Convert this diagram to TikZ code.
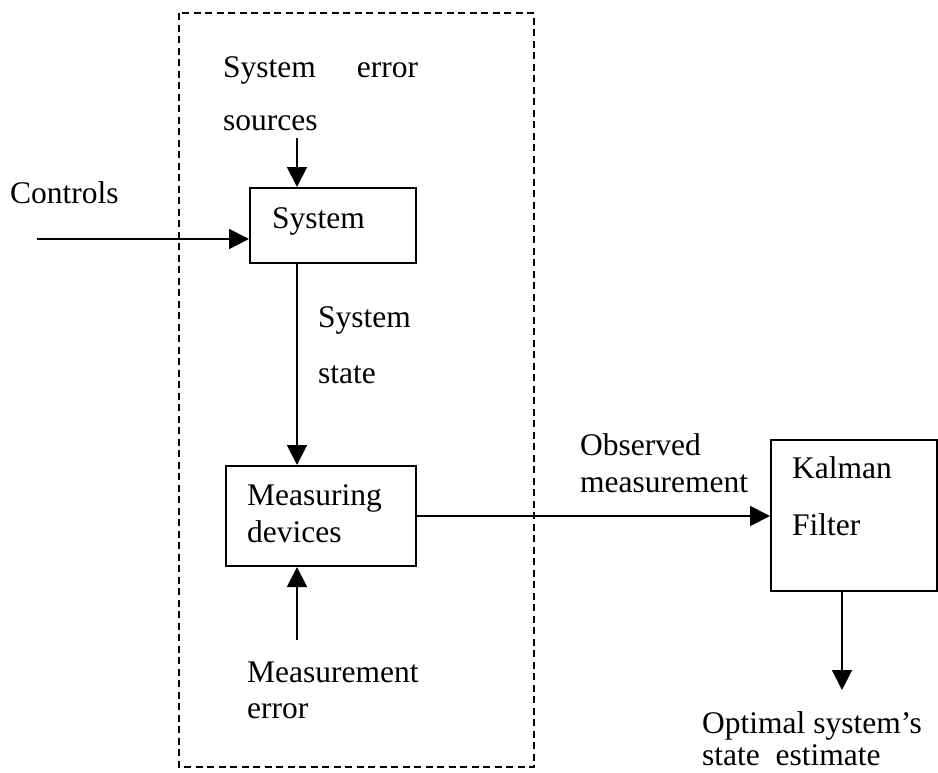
\documentclass[tikz,border=0pt]{standalone}
\usepackage{fontspec}
\setmainfont{Liberation Serif}
\usetikzlibrary{arrows.meta}

\tikzset{
  blk/.style={draw, line width=2pt, inner sep=0pt},
  lbl/.style={anchor=base west, inner sep=0pt, font=\fontsize{31.5}{36}\selectfont},
  arr/.style={line width=1.9pt, -{Triangle[length=20pt,width=20pt]}},
}

\begin{document}
\begin{tikzpicture}[x=1pt,y=-1pt]
  \useasboundingbox (0,0) rectangle (938,772);
  % dashed frame round system + measuring part
  \draw[line width=1.5pt, dash pattern=on 7pt off 4.5pt] (179,13) rectangle (534,767);

  % blocks
  \node[blk, minimum width=166pt, minimum height=75pt]  (sys)  at (333,225.5) {};
  \node[blk, minimum width=190pt, minimum height=100pt] (meas) at (321,516) {};
  \node[blk, minimum width=166pt, minimum height=151pt] (kal)  at (854,515.5) {};

  % texts
  \node[lbl] (ctrl)   at (10,203)  {Controls};
  \node[lbl] (errsrc) at (223,77)  {System\hspace{41pt}error};
  \node[lbl] (errsrcb) at (223,130) {sources};
  \node[lbl] (systxt) at (272,228) {System};
  \node[lbl] (state)  at (318,327) {System};
  \node[lbl] (stateb) at (318,383) {state};
  \node[lbl] (meastxt)  at (247,505) {Measuring};
  \node[lbl] (meastxtb) at (247,542) {devices};
  \node[lbl] (merr)   at (247,682) {Measurement};
  \node[lbl] (merrb)  at (247,718) {error};
  \node[lbl] (obs)    at (580,455) {Observed};
  \node[lbl] (obsb)   at (580,492) {measurement};
  \node[lbl] (kaltxt)  at (792,478) {Kalman};
  \node[lbl] (kaltxtb) at (792,535) {Filter};
  \node[lbl] (est)    at (702,733) {Optimal system’s};
  \node[lbl] (estb)   at (702,765) {state\ \ estimate};

  % loose ends of the arrows
  \coordinate (ctrlin)  at (37,239);
  \coordinate (srcend)  at (297,138);
  \coordinate (merrend) at (297,640);
  \coordinate (kalout)  at (842,690);

  % arrows
  \draw[arr] (ctrlin) -- (ctrlin -| sys.west);
  \draw[arr] (srcend) -- (srcend |- sys.north);
  \draw[arr] (srcend |- sys.south) -- (srcend |- meas.north);
  \draw[arr] (merrend) -- (merrend |- meas.south);
  \draw[arr] (meas.east) -- (meas.east -| kal.west);
  \draw[arr] (kalout |- kal.south) -- (kalout);
\end{tikzpicture}
\end{document}
